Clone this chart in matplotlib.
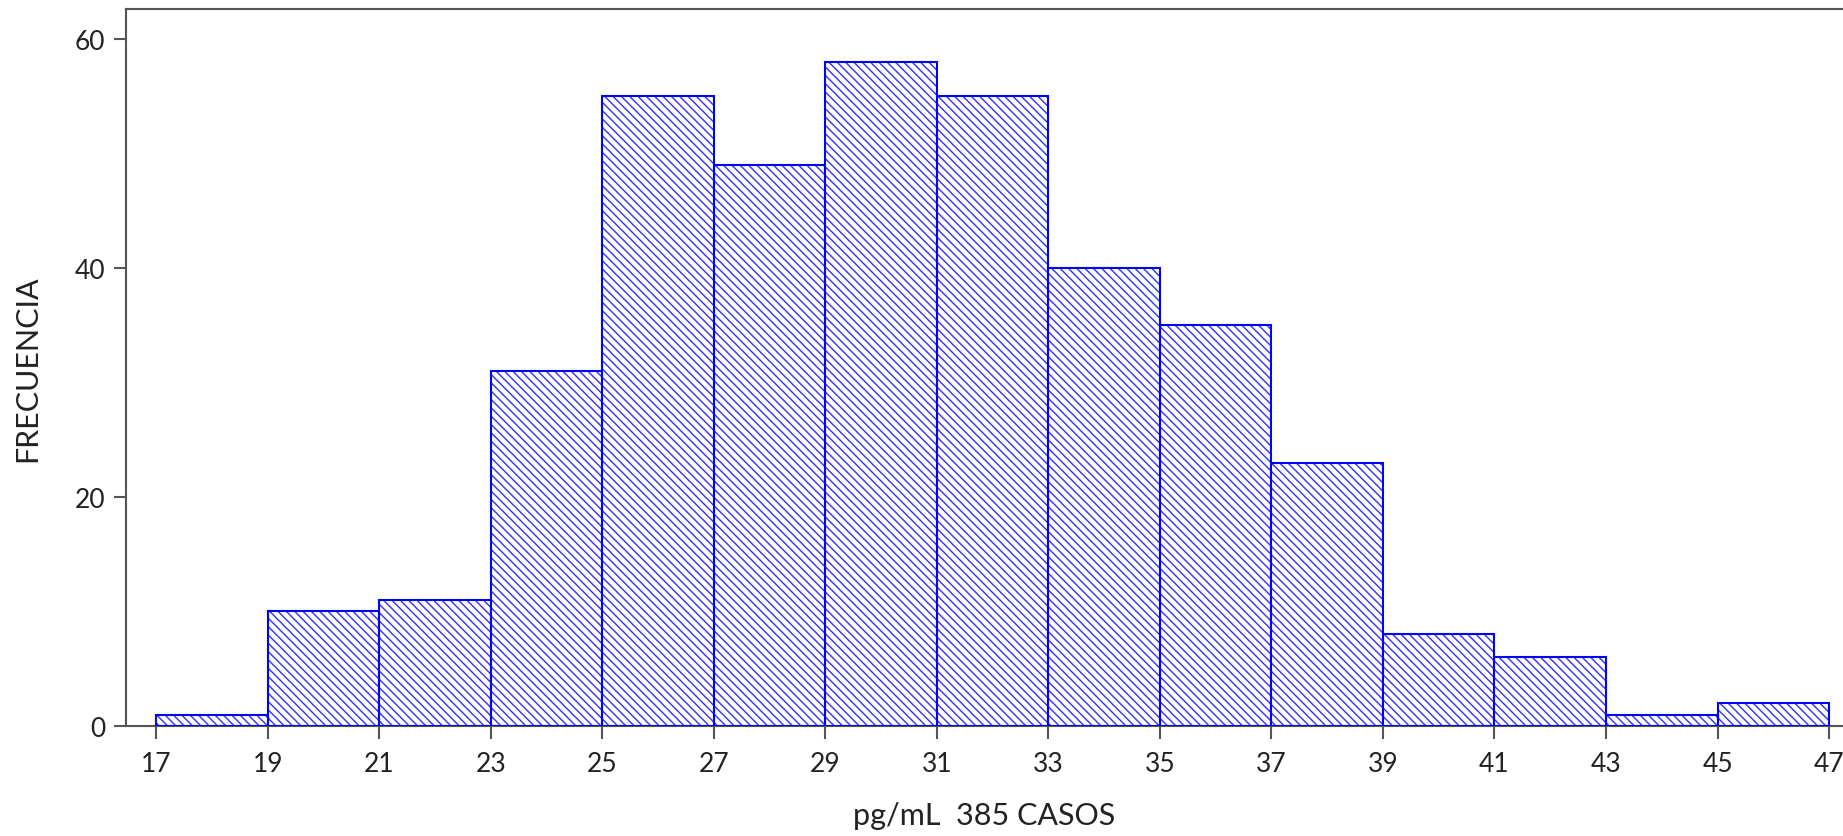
import matplotlib
matplotlib.use("Agg")
import matplotlib.pyplot as plt

bin_edges = [17, 19, 21, 23, 25, 27, 29, 31, 33, 35, 37, 39, 41, 43, 45, 47]
counts = [1, 10, 11, 31, 55, 49, 58, 55, 40, 35, 23, 8, 6, 1, 2]
x_ticks = [17, 19, 21, 23, 25, 27, 29, 31, 33, 35, 37, 39, 41, 43, 45, 47]
y_ticks = [0, 20, 40, 60]
x_label = "pg/mL  385 CASOS"
y_label = "FRECUENCIA"

plt.rcParams['font.family'] = ['Lato', 'DejaVu Sans']
plt.rcParams['hatch.linewidth'] = 1.0

W, H = 1843, 837
fig = plt.figure(figsize=(W / 100, H / 100), dpi=100)
left, right, bottom, top = 126, 1843, 727, 10
ax = fig.add_axes([left / W, (H - bottom) / H, (right - left) / W, (bottom - top) / H])

lefts = bin_edges[:-1]
widths = [b - a for a, b in zip(bin_edges[:-1], bin_edges[1:])]

ax.bar(lefts, counts, width=widths, align='edge', color='white',
       edgecolor='#3030ff', linewidth=0, hatch='\\\\\\\\', zorder=3)
ax.bar(lefts, counts, width=widths, align='edge', fill=False,
       edgecolor='#0000ff', linewidth=1.5, zorder=4)

ax.set_xlim(16.46, 47.25)
ax.set_ylim(0, 62.6)
ax.set_xticks(x_ticks)
ax.set_yticks(y_ticks)

for s in ['left', 'bottom', 'top']:
    ax.spines[s].set_color('#555555')
    ax.spines[s].set_linewidth(1.5)
ax.spines['right'].set_visible(False)

ax.tick_params(axis='both', direction='out', length=9, width=1.5, color='#555555',
               labelsize=19, labelcolor='#222222')
ax.tick_params(axis='x', pad=9)
ax.tick_params(axis='y', pad=6)

ax.set_xlabel(x_label, fontsize=22, color='#222222', labelpad=18)
ax.set_ylabel(y_label, fontsize=22, color='#222222', labelpad=24)

fig.savefig('out.png', dpi=100)
